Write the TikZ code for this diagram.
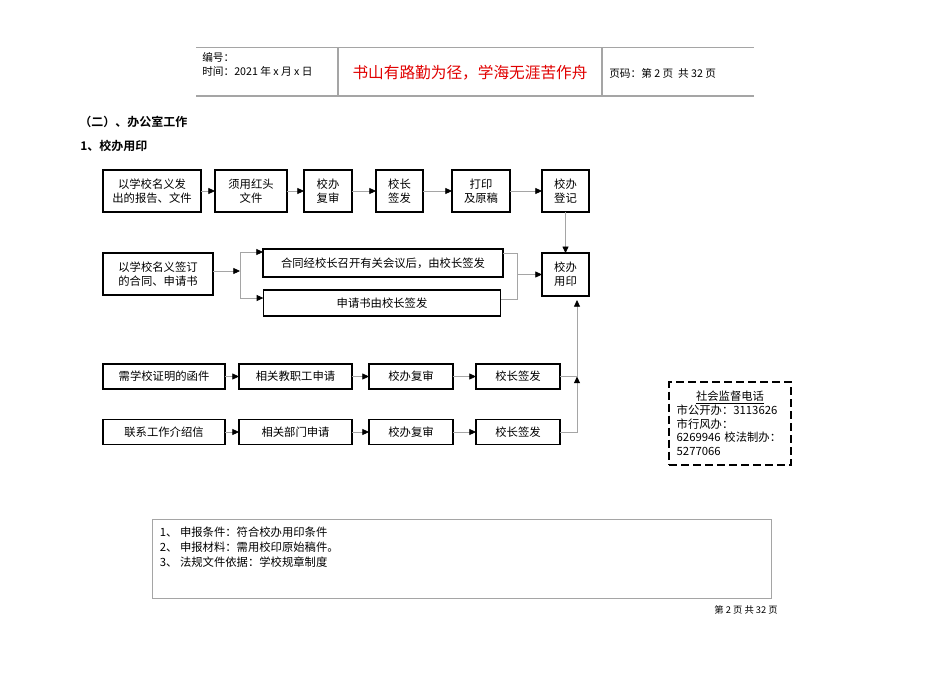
\documentclass[tikz,border=0pt]{standalone}
\usepackage{fontspec}
\setmainfont{Noto Sans CJK SC}[BoldFont={Noto Sans CJK SC Bold}]
\usetikzlibrary{arrows.meta, positioning}
\definecolor{linegray}{RGB}{165,165,165}
\definecolor{mottored}{RGB}{225,0,0}

\begin{document}
\begin{tikzpicture}[
  x=0.75pt, y=-0.75pt,
  stepbox/.style={draw, line width=1.1pt, outer sep=0pt, minimum height=31.5pt, inner sep=1pt, align=center, font=\fontsize{8.5}{10.5}\selectfont},
  flatbox/.style={stepbox, minimum height=19pt},
  line/.style={draw=linegray, line width=0.6pt},
  edge/.style={line, -{Triangle[length=5pt, width=4.5pt, color=black]}},
  monitor/.style={draw, dashed, line width=1.8pt, dash pattern=on 6pt off 3pt, minimum width=91.5pt, minimum height=62pt, inner xsep=5.75pt, text width=80pt, align=left, font=\fontsize{8.5}{10.3}\selectfont},
  plain/.style={anchor=west, inner sep=0pt}
]
\useasboundingbox[fill=white] (0,0) rectangle (950,672);

% header
\draw[linegray, line width=0.6pt] (196,47) -- (754,47);
\draw[linegray, line width=1.5pt] (196,96) -- (754,96);
\draw[linegray, line width=0.8pt] (338,47) -- (338,96) (602,47) -- (602,96);
\node[plain, font=\fontsize{8}{9}\selectfont] (code) at (202,57) {编号：};
\node[plain, font=\fontsize{8}{9}\selectfont] (date) at (202,71) {时间：2021 年 x 月 x 日};
\node[font=\fontsize{11.75}{13}\selectfont, text=mottored] (motto) at (470,73) {书山有路勤为径，学海无涯苦作舟};
\node[plain, font=\fontsize{8}{9}\selectfont] (pagecode) at (609,73) {页码：第 2 页\ \ 共 32 页};

% headings
\node[plain, font=\fontsize{9}{10}\selectfont\bfseries] (part) at (79,122) {（二）、办公室工作};
\node[plain, font=\fontsize{9}{10}\selectfont\bfseries] (item) at (80,146) {1、校办用印};

% first row
\node[stepbox, minimum width=73.5pt] (report) at (152,191) {以学校名义发\\出的报告、文件};
\node[stepbox, minimum width=54pt, right=10.5pt of report] (redhead) {须用红头\\文件};
\node[stepbox, minimum width=36pt, right=12.75pt of redhead] (review) {校办\\复审};
\node[stepbox, minimum width=35.25pt, right=18pt of review] (sign) {校长\\签发};
\node[stepbox, minimum width=43.5pt, right=21.75pt of sign] (print) {打印\\及原稿};
\node[stepbox, minimum width=35.25pt, right=24pt of print] (register) {校办\\登记};

% second row
\node[stepbox, minimum width=82.5pt] (contract) at (158,274) {以学校名义签订\\的合同、申请书};
\node[stepbox, line width=2pt, minimum width=180pt, minimum height=21pt] (meeting) at (383,263) {合同经校长召开有关会议后，由校长签发};
\node[stepbox, minimum width=178pt, minimum height=19.5pt] (letter) at (382,303) {申请书由校长签发};
\node[stepbox, minimum width=35.25pt, minimum height=32pt] (seal) at (565.5,274.5) {校办\\用印};

% third and fourth rows
\node[flatbox, minimum width=91.5pt] (proof) at (164,376.5) {需学校证明的函件};
\node[flatbox, minimum width=84.75pt, right=10.5pt of proof] (staff) {相关教职工申请};
\node[flatbox, minimum width=63pt, right=12.75pt of staff] (review3) {校办复审};
\node[flatbox, minimum width=63pt, right=17.25pt of review3] (sign3) {校长签发};

\node[flatbox, minimum width=91.5pt] (intro) at (164,432) {联系工作介绍信};
\node[flatbox, minimum width=84.75pt, right=10.5pt of intro] (dept) {相关部门申请};
\node[flatbox, minimum width=63pt, right=12.75pt of dept] (review4) {校办复审};
\node[flatbox, minimum width=63pt, right=17.25pt of review4] (sign4) {校长签发};

% connectors
\foreach \a/\b in {report/redhead, redhead/review, review/sign, sign/print, print/register,
                   proof/staff, staff/review3, review3/sign3, intro/dept, dept/review4, review4/sign4}
  \draw[edge] (\a) -- (\b);
\draw[edge] (register) -- (register |- seal.north);

\coordinate (jl) at (240,271);
\coordinate (jlt) at (240,252);
\coordinate (jlb) at (240,298);
\draw[edge] (contract.east |- jl) -- (jl);
\draw[line] (jlt) -- (jlb);
\draw[edge] (jlt) -- (jlt -| meeting.west);
\draw[edge] (jlb) -- (jlb -| letter.west);

\coordinate (jrt) at (517,253);
\coordinate (jrb) at (517,299);
\draw[line] (jrt -| meeting.east) -- (jrt) -- (jrb) -- (jrb -| letter.east);
\draw[edge] (jrt |- seal) -- (seal.west);

\coordinate (rise) at (577,300);
\draw[edge] (sign4.east) -| (rise |- sign3.east);
\draw[edge] (sign3.east) -| (rise);

% hotline box
\node[monitor] (hotline) at (730,423.5) {{\centering\underline{社会监督电话}\par}
市公开办：3113626\\
市行风办：\\
6269946 校法制办：\\
5277066};

% basis box
\node[draw=linegray, line width=0.6pt, minimum width=464.25pt, minimum height=59.25pt] (basis) at (461.5,558.5) {};
\node[anchor=north west, inner sep=0pt, align=left, font=\fontsize{8.5}{11.3}\selectfont] (terms) at ([shift={(8,8)}]basis.north west) {1、 申报条件：符合校办用印条件\\
2、 申报材料：需用校印原始稿件。\\
3、 法规文件依据：学校规章制度};

\node[anchor=east, inner sep=0pt, font=\fontsize{7}{8}\selectfont] (pageno) at (778,610) {第 2 页 共 32 页};
\end{tikzpicture}
\end{document}
